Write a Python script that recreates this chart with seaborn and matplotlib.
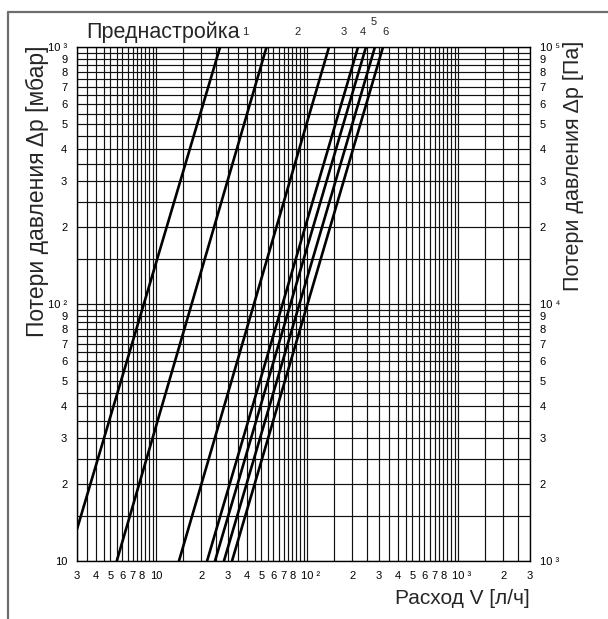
import matplotlib
matplotlib.use("Agg")
import matplotlib.pyplot as plt
from matplotlib.lines import Line2D
from matplotlib.transforms import ScaledTranslation
import seaborn as sns
import pandas as pd

# ---- data (flow V [l/h], pressure loss dp [mbar]) ----
curve_ids = ["a", "b", "c", "d", "e", "f", "g"]
v_start = [3.0, 5.5, 14.2, 21.8, 24.6, 28.2, 31.9]
dp_start = [13.3, 10, 10, 10, 10, 10, 10]
v_end = [26.6, 54.0, 140.0, 218.0, 246.0, 282.0, 319.0]
dp_end = [1000, 1000, 1000, 1000, 1000, 1000, 1000]

preset_labels = ["1", "2", "3", "4", "5", "6"]
preset_label_x = [39.0, 87.0, 174.0, 235.0, 278.0, 329.0]
preset_label_raise = [0, 0, 0, 0, 1, 0]

x_tick_vals = [3, 4, 5, 6, 7, 8, 10, 20, 30, 40, 50, 60, 70, 80, 100,
               200, 300, 400, 500, 600, 700, 800, 1000, 2000, 3000]
x_tick_text = ["3", "4", "5", "6", "7", "8", "10", "2", "3", "4", "5", "6", "7", "8", "10 ²",
               "2", "3", "4", "5", "6", "7", "8", "10 ³", "2", "3"]
y_tick_vals = [10, 20, 30, 40, 50, 60, 70, 80, 90, 100,
               200, 300, 400, 500, 600, 700, 800, 900, 1000]
y_tick_text_left = ["10", "2", "3", "4", "5", "6", "7", "8", "9", "10 ²",
                    "2", "3", "4", "5", "6", "7", "8", "9", "10 ³"]
y_tick_text_right = ["10 ³", "2", "3", "4", "5", "6", "7", "8", "9", "10 ⁴",
                     "2", "3", "4", "5", "6", "7", "8", "9", "10 ⁵"]
grid_mantissas = [1, 1.5, 2, 2.5, 3, 3.5, 4, 4.5, 5, 5.5, 6, 6.5, 7, 7.5, 8, 8.5, 9, 9.5]

rows = []
for cid, vs, ds, ve, de in zip(curve_ids, v_start, dp_start, v_end, dp_end):
    rows.append({"curve": cid, "V": vs, "dp": ds})
    rows.append({"curve": cid, "V": ve, "dp": de})
df = pd.DataFrame(rows)

sns.set_theme(style="white")
plt.rcParams["font.family"] = ["Liberation Sans", "DejaVu Sans"]

W, H = 608, 619
fig = plt.figure(figsize=(W / 100, H / 100), dpi=100)
L, R, T, B = 77, 530, 47, 561
ax = fig.add_axes([L / W, 1 - B / H, (R - L) / W, (B - T) / H])

sns.lineplot(data=df, x="V", y="dp", hue="curve", palette=["black"] * len(curve_ids),
             legend=False, estimator=None, sort=False, linewidth=1.9, ax=ax, zorder=5)

ax.set_xscale("log")
ax.set_yscale("log")
ax.set_xlim(3, 3000)
ax.set_ylim(10, 1000)

xgrid = [m * 10 ** e for e in range(0, 4) for m in grid_mantissas if 3 <= m * 10 ** e <= 3000]
ygrid = [m * 10 ** e for e in range(1, 4) for m in grid_mantissas if 10 <= m * 10 ** e <= 1000]
for gx in xgrid:
    ax.axvline(gx, color="#111111", lw=0.85, zorder=1)
for gy in ygrid:
    ax.axhline(gy, color="#111111", lw=0.85, zorder=1)

ax.set_xticks(x_tick_vals)
ax.set_xticklabels(x_tick_text)
ax.set_xticks([], minor=True)
ax.set_yticks(y_tick_vals)
ax.set_yticklabels(y_tick_text_left)
ax.set_yticks([], minor=True)
ax.tick_params(axis="both", which="both", length=0, labelsize=8, colors="black")
ax.tick_params(axis="x", pad=7)
ax.tick_params(axis="y", pad=7)
ax.set_xlabel("")
ax.set_ylabel("")
for s in ax.spines.values():
    s.set_color("black")
    s.set_linewidth(1.0)

# shift superscripted x labels so that "10" sits on the tick
for lbl in ax.get_xticklabels():
    if " " in lbl.get_text():
        lbl.set_transform(lbl.get_transform() + ScaledTranslation(4 / 100, 0, fig.dpi_scale_trans))

ax2 = ax.twinx()
ax2.set_yscale("log")
ax2.set_ylim(1e3, 1e5)
ax2.set_yticks([v * 100 for v in y_tick_vals])
ax2.set_yticklabels(y_tick_text_right)
ax2.set_yticks([], minor=True)
ax2.tick_params(axis="y", which="both", length=0, labelsize=8, pad=7, colors="black")
for s in ax2.spines.values():
    s.set_visible(False)

# preset labels above the plot
fig.text(86 / W, 1 - 32 / H, "Преднастройка", fontsize=15.5, ha="left", va="center")
for lab, lx, up in zip(preset_labels, preset_label_x, preset_label_raise):
    ax.annotate(lab, xy=(lx, 1000), xycoords="data",
                xytext=(0, 15 + 10 * up), textcoords="offset pixels",
                ha="center", va="center", fontsize=8, annotation_clip=False)

fig.text(37 / W, 1 - 191 / H, "Потери давления Δp [мбар]", rotation=90,
         fontsize=16.5, ha="center", va="center")
fig.text(574 / W, 1 - 166 / H, "Потери давления Δp [Па]", rotation=90,
         fontsize=15.5, ha="center", va="center")
fig.text(R / W, 1 - 598 / H, "Расход V [л/ч]", fontsize=15, ha="right", va="center")

# outer frame (cropped at right/bottom)
fx = 8 / W
fy = 1 - 12 / H
fig.add_artist(Line2D([fx, fx], [0, fy], transform=fig.transFigure, color="#6e6e6e", lw=1.6))
fig.add_artist(Line2D([fx, 1], [fy, fy], transform=fig.transFigure, color="#6e6e6e", lw=1.6))

fig.savefig("out.png", dpi=100)
